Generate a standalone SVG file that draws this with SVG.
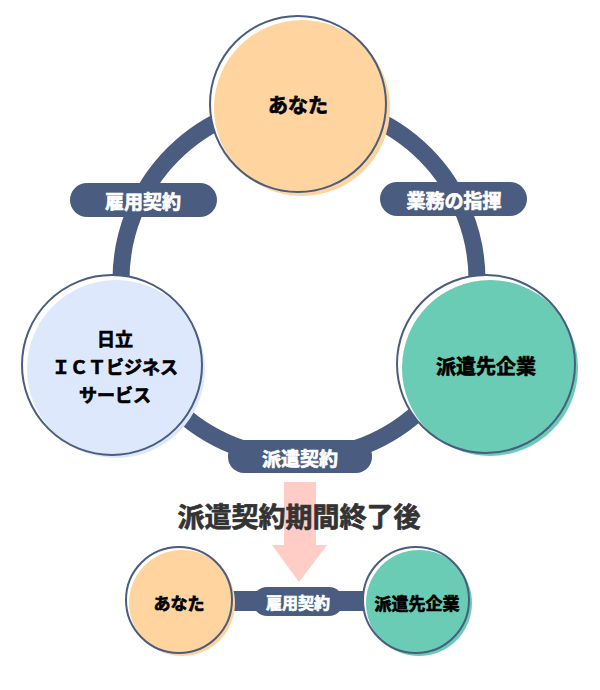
<svg xmlns="http://www.w3.org/2000/svg" width="600" height="690" viewBox="0 0 600 690">
<style>
.t{font-family:"Noto Sans CJK JP","Noto Sans",sans-serif;font-weight:700;text-anchor:middle;dominant-baseline:central;stroke-width:0.7}
.w{fill:#ffffff;stroke:#ffffff}
.k{fill:#000000;stroke:#000000}
.g{fill:#333333;stroke:#333333}
.ol{fill:none;stroke:#4a5d80;stroke-width:2}
.bg{fill:#ffffff}
.lab{fill:#4a5d80}
</style>
<rect width="600" height="690" fill="#ffffff"/>
<g id="connectors">
<circle cx="299" cy="280" r="178" fill="none" stroke="#4a5d80" stroke-width="17"/>
<rect x="232" y="591" width="131" height="20" fill="#4a5d80"/>
</g>
<g id="label-koyou">
<rect class="lab" x="70" y="183" width="147" height="34" rx="17"/>
<text class="t w" x="143" y="200" font-size="19">雇用契約</text>
</g>
<g id="label-gyomu">
<rect class="lab" x="380" y="182" width="147" height="34" rx="17"/>
<text class="t w" x="454" y="199" font-size="19">業務の指揮</text>
</g>
<g id="label-haken">
<rect class="lab" x="228" y="440" width="144" height="33" rx="16"/>
<text class="t w" x="300" y="457" font-size="19">派遣契約</text>
</g>
<g id="node-anata">
<circle class="bg" cx="298" cy="104" r="88"/>
<circle cx="302" cy="108" r="88" fill="#ffd49e"/>
<circle class="ol" cx="298" cy="104" r="88"/>
<text class="t k" x="298" y="104" font-size="20">あなた</text>
</g>
<g id="node-hitachi">
<circle class="bg" cx="112" cy="365" r="90"/>
<circle cx="116" cy="369" r="89" fill="#dde8fc"/>
<circle class="ol" cx="112" cy="365" r="90"/>
<text class="t k" x="115" y="338" font-size="18">日立</text>
<text class="t k" x="115" y="366" font-size="18">ＩＣＴビジネス</text>
<text class="t k" x="115" y="394" font-size="18">サービス</text>
</g>
<g id="node-hakensaki">
<circle class="bg" cx="486" cy="364" r="89"/>
<circle cx="490" cy="368" r="88" fill="#6accb5"/>
<circle class="ol" cx="486" cy="364" r="89"/>
<text class="t k" x="486" y="365" font-size="20">派遣先企業</text>
</g>
<g id="arrow">
<polygon points="284,482 316,482 316,545 327,545 299,582 272,545 284,545" fill="#ffcdc6"/>
</g>
<g id="title">
<text class="t g" x="299" y="515" font-size="27">派遣契約期間終了後</text>
</g>
<g id="label-koyou2">
<rect class="lab" x="253" y="587" width="90" height="29" rx="14"/>
<text class="t w" x="298" y="602" font-size="16">雇用契約</text>
</g>
<g id="node-anata2">
<circle class="bg" cx="179" cy="600" r="53"/>
<circle cx="182" cy="603" r="53" fill="#ffd49e"/>
<circle class="ol" cx="179" cy="600" r="53"/>
<text class="t k" x="179" y="602" font-size="17">あなた</text>
</g>
<g id="node-hakensaki2">
<circle class="bg" cx="416" cy="600" r="53"/>
<circle cx="419" cy="603" r="53" fill="#6accb5"/>
<circle class="ol" cx="416" cy="600" r="53"/>
<text class="t k" x="417" y="602" font-size="17">派遣先企業</text>
</g>
</svg>
